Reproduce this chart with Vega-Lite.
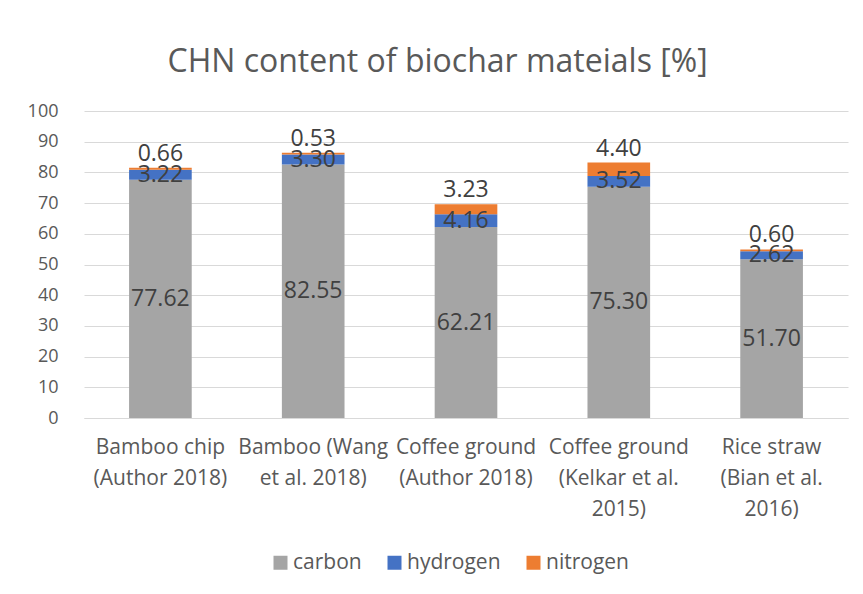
{
  "$schema": "https://vega.github.io/schema/vega-lite/v6.json",
  "autosize": {"type": "none"},
  "width": 764,
  "height": 307,
  "padding": {"left": 84, "top": 111, "right": 15, "bottom": 176},
  "background": "white",
  "title": {
    "text": "CHN content of biochar mateials [%]",
    "fontSize": 32,
    "font": "Open Sans",
    "fontWeight": "normal",
    "color": "#595959",
    "offset": 23,
    "anchor": "middle",
    "frame": "bounds"
  },
  "data": {
    "values": [
      {"source": "Bamboo chip|(Author 2018)", "element": "carbon", "value": 77.62},
      {"source": "Bamboo chip|(Author 2018)", "element": "hydrogen", "value": 3.22},
      {"source": "Bamboo chip|(Author 2018)", "element": "nitrogen", "value": 0.66},
      {"source": "Bamboo (Wang|et al. 2018)", "element": "carbon", "value": 82.55},
      {"source": "Bamboo (Wang|et al. 2018)", "element": "hydrogen", "value": 3.30},
      {"source": "Bamboo (Wang|et al. 2018)", "element": "nitrogen", "value": 0.53},
      {"source": "Coffee ground|(Author 2018)", "element": "carbon", "value": 62.21},
      {"source": "Coffee ground|(Author 2018)", "element": "hydrogen", "value": 4.16},
      {"source": "Coffee ground|(Author 2018)", "element": "nitrogen", "value": 3.23},
      {"source": "Coffee ground|(Kelkar et al.|2015)", "element": "carbon", "value": 75.30},
      {"source": "Coffee ground|(Kelkar et al.|2015)", "element": "hydrogen", "value": 3.52},
      {"source": "Coffee ground|(Kelkar et al.|2015)", "element": "nitrogen", "value": 4.40},
      {"source": "Rice straw|(Bian et al.|2016)", "element": "carbon", "value": 51.70},
      {"source": "Rice straw|(Bian et al.|2016)", "element": "hydrogen", "value": 2.62},
      {"source": "Rice straw|(Bian et al.|2016)", "element": "nitrogen", "value": 0.60}
    ]
  },
  "transform": [
    {"stack": "value", "groupby": ["source"], "sort": [{"field": "element", "order": "ascending"}], "as": ["v0", "v1"]}
  ],
  "encoding": {
    "x": {
      "field": "source",
      "type": "nominal",
      "sort": null,
      "scale": {"paddingInner": 0.59, "paddingOuter": 0.295},
      "axis": {
        "title": null,
        "labelAngle": 0,
        "labelExpr": "split(datum.label, '|')",
        "labelFontSize": 21,
        "labelLineHeight": 31,
        "labelColor": "#595959",
        "labelPadding": 18,
        "ticks": false,
        "domainColor": "#D9D9D9",
        "domainWidth": 1,
        "labelBaseline": "top"
      }
    }
  },
  "layer": [
    {
      "mark": {"type": "bar"},
      "encoding": {
        "y": {
          "field": "v1",
          "type": "quantitative",
          "scale": {"domain": [0, 100]},
          "axis": {
            "title": null,
            "values": [0, 10, 20, 30, 40, 50, 60, 70, 80, 90, 100],
            "labelOverlap": false,
            "domain": false,
            "ticks": false,
            "labelFontSize": 18,
            "labelColor": "#595959",
            "labelPadding": 26,
            "gridColor": "#D9D9D9",
            "gridWidth": 1
          }
        },
        "y2": {"field": "v0"},
        "color": {
          "field": "element",
          "type": "nominal",
          "scale": {"domain": ["carbon", "hydrogen", "nitrogen"], "range": ["#A5A5A5", "#4472C4", "#ED7D31"]},
          "legend": {
            "title": null,
            "orient": "none",
            "legendX": 186,
            "legendY": 441,
            "direction": "horizontal",
            "symbolType": "square",
            "symbolSize": 196,
            "symbolStrokeWidth": 0,
            "labelFontSize": 21,
            "labelColor": "#595959",
            "columnPadding": 22,
            "labelOffset": 2
          }
        }
      }
    },
    {
      "transform": [
        {"filter": "datum.element != 'nitrogen'"},
        {"fold": ["v0", "v1"], "as": ["edge", "pos"]},
        {"aggregate": [{"op": "mean", "field": "pos", "as": "mid"}], "groupby": ["source", "element", "value"]}
      ],
      "mark": {"type": "text", "fontSize": 23, "color": "#404040", "baseline": "middle"},
      "encoding": {
        "y": {
          "field": "mid",
          "type": "quantitative",
          "axis": {
            "title": null,
            "values": [0, 10, 20, 30, 40, 50, 60, 70, 80, 90, 100],
            "labelOverlap": false,
            "domain": false,
            "ticks": false,
            "labelFontSize": 18,
            "labelColor": "#595959",
            "labelPadding": 26,
            "gridColor": "#D9D9D9",
            "gridWidth": 1
          }
        },
        "text": {"field": "value", "type": "quantitative", "format": ".2f"}
      }
    },
    {
      "transform": [{"filter": "datum.element == 'nitrogen'"}],
      "mark": {"type": "text", "fontSize": 23, "color": "#404040", "baseline": "bottom", "dy": -2},
      "encoding": {
        "y": {
          "field": "v1",
          "type": "quantitative",
          "axis": {
            "title": null,
            "values": [0, 10, 20, 30, 40, 50, 60, 70, 80, 90, 100],
            "labelOverlap": false,
            "domain": false,
            "ticks": false,
            "labelFontSize": 18,
            "labelColor": "#595959",
            "labelPadding": 26,
            "gridColor": "#D9D9D9",
            "gridWidth": 1
          }
        },
        "text": {"field": "value", "type": "quantitative", "format": ".2f"}
      }
    }
  ],
  "config": {
    "font": "Open Sans",
    "view": {"stroke": null},
    "axis": {"labelFont": "Open Sans"},
    "legend": {"labelFont": "Open Sans"}
  }
}
